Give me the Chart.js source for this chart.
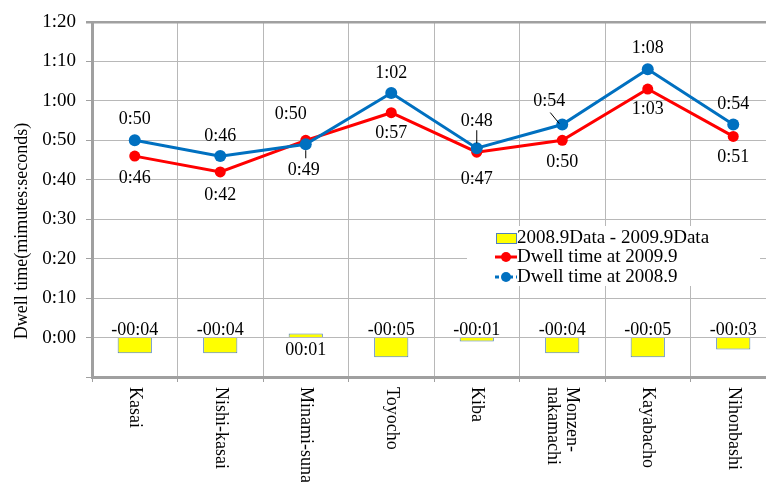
<!DOCTYPE html>
<html>
<head>
<meta charset="utf-8">
<script src="https://cdn.jsdelivr.net/npm/chart.js@4/dist/chart.umd.min.js"></script>
<style>
  html, body { margin: 0; padding: 0; background: #fff; }
  #frame { width: 766px; height: 482px; overflow: hidden; position: relative; }
  #box { width: 786px; height: 482px; position: absolute; left: 0; top: 0; }
</style>
</head>
<body>
<div id="frame"><div id="box"><canvas id="c"></canvas></div></div>
<script>
// Stations along the line
const stations = ['Kasai', 'Nishi-kasai', 'Minami-suna', 'Toyocho', 'Kiba', ['Monzen-', 'nakamachi'], 'Kayabacho', 'Nihonbashi'];
// Dwell time in seconds
const dwell2009 = [46, 42, 50, 57, 47, 50, 63, 51];
const dwell2008 = [50, 46, 49, 62, 48, 54, 68, 54];
// Change between the two surveys, seconds
const dwellDiff = [-4, -4, 1, -5, -1, -4, -5, -3];
// Value axis ticks (seconds)
const yTicks = [0, 10, 20, 30, 40, 50, 60, 70, 80];

const SERIF = "'Liberation Serif', 'Times New Roman', serif";
const GRID = '#b8b8b8';
const AXIS = '#a0a0a0';

function mmss(s) {
  const m = Math.floor(s / 60), r = s % 60;
  return m + ':' + String(r).padStart(2, '0');
}
function diffText(s) {
  const a = Math.abs(s);
  return (s < 0 ? '-' : '') + '00:' + String(a).padStart(2, '0');
}

// Label placement around each point: [dx, dy, leader]
const labelPlacement = {
  1: [[0,22],[0,23],[-15,-26],[0,21],[0,27],[0,22],[0,20],[0,21]],
  2: [[0,-21],[0,-20],[-2,26,[0,6,0,14]],[0,-20],[0,-27,[0,-18,0,-5]],[-13,-23,[-12,-12,-3,-1]],[0,-21],[0,-20]]
};

const valueLabels = {
  id: 'valueLabels',
  afterDatasetsDraw(chart) {
    const ctx = chart.ctx;
    const y = chart.scales.y;
    const zero = y.getPixelForValue(0);
    ctx.save();
    ctx.font = '18px ' + SERIF;
    ctx.fillStyle = '#000';
    ctx.textAlign = 'center';
    // bar labels
    const barMeta = chart.getDatasetMeta(0);
    barMeta.data.forEach((el, i) => {
      const v = chart.data.datasets[0].data[i];
      ctx.textBaseline = 'alphabetic';
      ctx.fillText(diffText(v), el.x, v < 0 ? zero - 3 : zero + 17);
    });
    // line labels
    [1, 2].forEach(di => {
      const meta = chart.getDatasetMeta(di);
      const data = chart.data.datasets[di].data;
      meta.data.forEach((el, i) => {
        const p = labelPlacement[di][i];
        ctx.textBaseline = 'middle';
        ctx.fillText(mmss(data[i]), el.x + p[0], el.y + p[1]);
        if (p[2]) {
          const l = p[2];
          ctx.strokeStyle = '#000';
          ctx.lineWidth = 1;
          ctx.beginPath();
          ctx.moveTo(el.x + l[0], el.y + l[1]);
          ctx.lineTo(el.x + l[2], el.y + l[3]);
          ctx.stroke();
        }
      });
    });
    ctx.restore();
  }
};

// Station names, rotated to read downward
const stationLabels = {
  id: 'stationLabels',
  afterDraw(chart) {
    const ctx = chart.ctx;
    const x = chart.scales.x;
    ctx.save();
    ctx.font = '18px ' + SERIF;
    ctx.fillStyle = '#000';
    ctx.textAlign = 'left';
    ctx.textBaseline = 'middle';
    const lh = 19;
    stations.forEach((s, i) => {
      const lines = Array.isArray(s) ? s : [s];
      const px = x.getPixelForTick(i);
      ctx.save();
      ctx.translate(px, x.top + 10);
      ctx.rotate(Math.PI / 2);
      lines.forEach((t, j) => {
        ctx.fillText(t, 0, (j - (lines.length - 1) / 2) * lh);
      });
      ctx.restore();
    });
    // axis title
    ctx.save();
    ctx.translate(22, 231);
    ctx.rotate(-Math.PI / 2);
    ctx.textAlign = 'center';
    ctx.fillText('Dwell time(mimutes:seconds)', 0, 0);
    ctx.restore();
    ctx.restore();
  }
};

// Legend box inside the plot
const innerLegend = {
  id: 'innerLegend',
  afterDatasetsDraw(chart) {
    const ctx = chart.ctx;
    const ds = chart.data.datasets;
    ctx.save();
    ctx.fillStyle = '#fff';
    ctx.fillRect(467, 226, 293, 60);
    ctx.font = '19px ' + SERIF;
    ctx.textAlign = 'left';
    ctx.textBaseline = 'middle';
    const rows = [238, 257, 277];
    // bar swatch
    ctx.fillStyle = ds[0].backgroundColor;
    ctx.fillRect(496, 233, 20, 10);
    ctx.strokeStyle = ds[0].borderColor;
    ctx.lineWidth = 1;
    ctx.strokeRect(496.5, 233.5, 20, 10);
    ctx.fillStyle = '#000';
    ctx.fillText(ds[0].label, 517, rows[0]);
    [1, 2].forEach((di, k) => {
      const yy = rows[k + 1];
      ctx.strokeStyle = ds[di].borderColor;
      ctx.lineWidth = 3;
      if (di === 2) ctx.setLineDash([4, 3]); else ctx.setLineDash([]);
      ctx.beginPath();
      ctx.moveTo(495, yy);
      ctx.lineTo(517, yy);
      ctx.stroke();
      ctx.setLineDash([]);
      ctx.fillStyle = ds[di].borderColor;
      ctx.beginPath();
      ctx.arc(506, yy, 5, 0, Math.PI * 2);
      ctx.fill();
      ctx.fillStyle = '#000';
      ctx.fillText(ds[di].label, 517, yy);
    });
    ctx.restore();
  }
};

new Chart(document.getElementById('c'), {
  data: {
    labels: stations.map(s => Array.isArray(s) ? s.join('') : s),
    datasets: [
      {
        type: 'bar',
        label: '2008.9Data - 2009.9Data',
        data: dwellDiff,
        backgroundColor: '#FFFF00',
        borderColor: '#4F81BD',
        borderWidth: 1,
        barPercentage: 0.4,
        categoryPercentage: 1,
        order: 2
      },
      {
        type: 'line',
        label: 'Dwell time at 2009.9',
        data: dwell2009,
        borderColor: '#FF0000',
        backgroundColor: '#FF0000',
        borderWidth: 3,
        pointRadius: 5.5,
        pointBorderWidth: 0,
        tension: 0,
        order: 1
      },
      {
        type: 'line',
        label: 'Dwell time at 2008.9',
        data: dwell2008,
        borderColor: '#0070C0',
        backgroundColor: '#0070C0',
        borderWidth: 3,
        pointRadius: 6,
        pointBorderWidth: 0,
        tension: 0,
        order: 0
      }
    ]
  },
  options: {
    responsive: true,
    maintainAspectRatio: false,
    animation: false,
    devicePixelRatio: 1,
    layout: { padding: { left: 0, right: 10, top: 22, bottom: 0 } },
    plugins: { legend: { display: false }, tooltip: { enabled: false } },
    scales: {
      x: {
        grid: {
          offset: true,
          color: GRID,
          lineWidth: 1,
          drawTicks: true,
          tickLength: 5,
          tickColor: AXIS
        },
        border: { color: AXIS, width: 3 },
        ticks: { callback: () => '', autoSkip: false, maxRotation: 0 },
        afterFit(scale) { scale.height = 105; }
      },
      y: {
        min: -10,
        max: 80,
        afterBuildTicks(scale) {
          scale.ticks = [-10].concat(yTicks).map(v => ({ value: v }));
        },
        grid: {
          color: ctx => (ctx.tick && ctx.tick.value === 80) ? AXIS : GRID,
          lineWidth: ctx => (ctx.tick && ctx.tick.value === 80) ? 2.5 : 1,
          tickLength: 6,
          tickColor: AXIS
        },
        border: { color: AXIS, width: 3 },
        ticks: {
          color: '#000',
          padding: 10,
          font: { family: SERIF, size: 19 },
          callback: v => v >= 0 ? mmss(v) : ''
        },
        afterFit(scale) { scale.width = 92; }
      }
    }
  },
  plugins: [valueLabels, innerLegend, stationLabels]
});
</script>
</body>
</html>
